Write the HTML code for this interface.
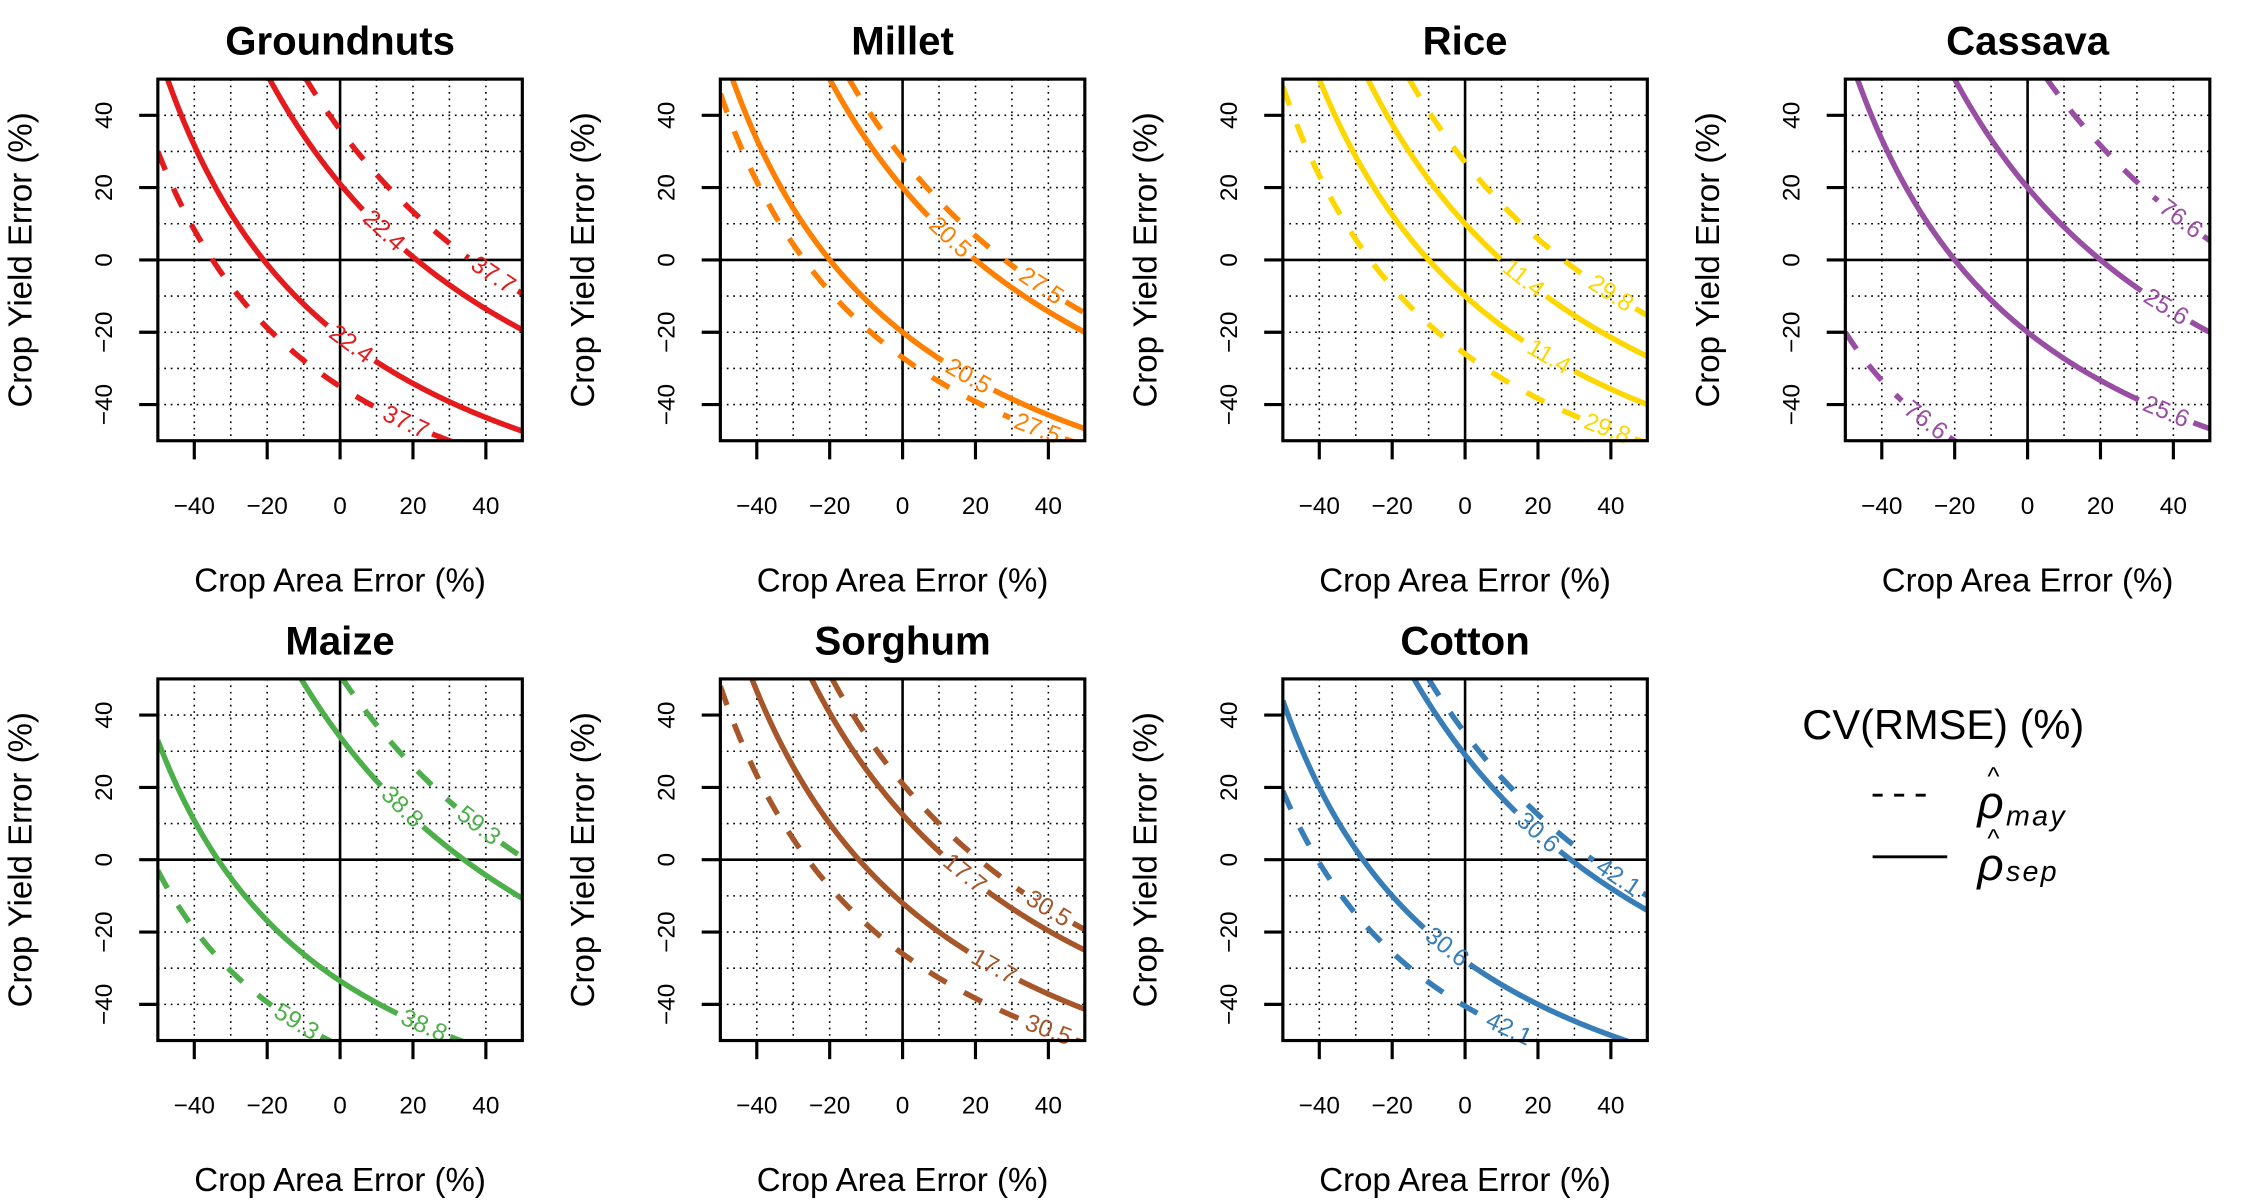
<!DOCTYPE html>
<html><head><meta charset="utf-8"><style>
html,body{margin:0;padding:0;background:#fff;}
svg{display:block;font-family:"Liberation Sans",Arial,sans-serif;}
</style></head><body>
<svg id="chart" width="2250" height="1200" viewBox="0 0 1568 836" xmlns="http://www.w3.org/2000/svg">
<rect x="0" y="0" width="1568" height="836" fill="#fff"/>
<g id="panels"></g>
<g>
  <text x="1256" y="515" font-size="29">CV(RMSE) (%)</text>
  <line x1="1305" y1="554" x2="1350" y2="554" stroke="#000" stroke-width="2" stroke-dasharray="7,8"/>
  <line x1="1305" y1="597" x2="1357" y2="597" stroke="#000" stroke-width="2"/>
  <g>
    <text x="1385" y="547" font-size="18">^</text>
    <text x="1378" y="570" font-size="32" font-style="italic">ρ</text>
    <text x="1398" y="575" font-size="20" font-style="italic" letter-spacing="1.5">may</text>
  </g>
  <g>
    <text x="1385" y="590" font-size="18">^</text>
    <text x="1378" y="613" font-size="32" font-style="italic">ρ</text>
    <text x="1398" y="614" font-size="20" font-style="italic" letter-spacing="1.5">sep</text>
  </g>
</g>
</svg>
<script>
const crops = ["Groundnuts","Millet","Rice","Cassava","Maize","Sorghum","Cotton"];
const colors = ["#e41a1c","#ff7f00","#ffd700","#984ea3","#4daf4a","#a65628","#377eb8"];
const solidUpper = [21, 20, 10, 20, 34, 12.5, 29];
const solidLower = [-21, -20, -10, -20, -33.5, -12, -28];
const dashUpper = [36, 28, 27, 58, 51, 21, 35];
const dashLower = [-35, -27, -26, -60, -51.5, -26, -40.5];
const solidCV = ["22.4","20.5","11.4","25.6","38.8","17.7","30.6"];
const dashCV = ["37.7","27.5","29.8","76.6","59.3","30.5","42.1"];
const solidUpperLabelX = [12, 13, 16, 38, 17, 17, 20];
const solidLowerLabelX = [3, 18, 23, 38, 23, 25, -5];
const dashUpperLabelX = [42, 38, 40, 42, 38, 40, 42];
const dashLowerLabelX = [18, 37, 39, -28, -12, 40, 12];
const ticks = [-40, -20, 0, 20, 40];

const NS = "http://www.w3.org/2000/svg";
const root = document.getElementById("panels");
function mk(tag, attrs, parent){
  const e = document.createElementNS(NS, tag);
  for (const k in attrs) e.setAttribute(k, attrs[k]);
  parent.appendChild(e);
  return e;
}
const W = 254, H = 252;
crops.forEach((crop, i) => {
  const col = i % 4, row = Math.floor(i / 4);
  const L = 110 + 392 * col, T = 55 + 418 * row;
  const sx = x => L + (x + 50) / 100 * W;
  const sy = y => T + (50 - y) / 100 * H;
  const g = mk("g", {}, root);
  
  
  const t = mk("text", {x: L + W/2, y: T - 17, "font-size": 28, "font-weight": "bold", "text-anchor": "middle"}, g);
  t.textContent = crop;
  
  
  const clipId = "clip" + i;
  const cp = mk("clipPath", {id: clipId}, g);
  mk("rect", {x: L, y: T, width: W, height: H}, cp);
  const grid = mk("g", {stroke: "#000", "stroke-width": 1.1, "stroke-dasharray": "1.2,3.3"}, g);
  
  
  for (let v = -40; v <= 40; v += 10) {
    if (v === 0) continue;
    mk("line", {x1: sx(v), y1: T, x2: sx(v), y2: T + H}, grid);
    mk("line", {x1: L, y1: sy(v), x2: L + W, y2: sy(v)}, grid);
  }
  const zx = mk("line", {x1: sx(0), y1: T, x2: sx(0), y2: T + H, stroke: "#000", "stroke-width": 1.8}, g);
  
  
  const zy = mk("line", {x1: L, y1: sy(0), x2: L + W, y2: sy(0), stroke: "#000", "stroke-width": 1.8}, g);
  
  
  const curves = [
    [solidUpper[i], solidCV[i], solidUpperLabelX[i], false],
    [solidLower[i], solidCV[i], solidLowerLabelX[i], false],
    [dashUpper[i], dashCV[i], dashUpperLabelX[i], true],
    [dashLower[i], dashCV[i], dashLowerLabelX[i], true]
  ];
  curves.forEach((cv, k) => {
    const c = 1 + cv[0] / 100, lx = cv[2];
    const f = x => 100 * (c / (1 + x / 100) - 1);
    const slope = x => -c / Math.pow(1 + x / 100, 2);
    const pxPerUnit = Math.sqrt(Math.pow(W/100, 2) + Math.pow(slope(lx) * H/100, 2));
    const hw = 20 / pxPerUnit;
    let d = "", pen = false;
    for (let x = -50; x <= 50.001; x += 0.25) {
      const y = f(x);
      if (Math.abs(x - lx) < hw || y > 60 || y < -60) { pen = false; continue; }
      d += (pen ? "L" : "M") + sx(x).toFixed(2) + "," + sy(y).toFixed(2);
      pen = true;
    }
    const p = mk("path", {d: d, fill: "none", stroke: colors[i], "stroke-width": 3.8, "clip-path": "url(#" + clipId + ")"}, g);
    if (cv[3]) p.setAttribute("stroke-dasharray", "14,14");
    
    
    const ang = Math.atan2(-slope(lx) * H/100, W/100) * 180 / Math.PI;
    const tx = sx(lx), ty = sy(f(lx));
    const lbl = mk("text", {x: tx, y: ty, "font-size": 17, fill: colors[i], "text-anchor": "middle", "dominant-baseline": "central", transform: "rotate(" + ang.toFixed(1) + " " + tx.toFixed(1) + " " + ty.toFixed(1) + ")", "clip-path": "url(#" + clipId + ")"}, g);
    lbl.textContent = cv[1];
    
    
  });
  const box = mk("rect", {x: L, y: T, width: W, height: H, fill: "none", stroke: "#000", "stroke-width": 2.2}, g);
  
  
  ticks.forEach(v => {
    mk("line", {x1: sx(v), y1: T + H, x2: sx(v), y2: T + H + 13, stroke: "#000", "stroke-width": 2.2}, g);
    const xl = mk("text", {x: sx(v), y: T + H + 51, "font-size": 17, "text-anchor": "middle"}, g);
    xl.textContent = v < 0 ? "\u2212" + (-v) : String(v);
    
    
    mk("line", {x1: L, y1: sy(v), x2: L - 13, y2: sy(v), stroke: "#000", "stroke-width": 2.2}, g);
    const yx = L - 32, yy = sy(v);
    const yl = mk("text", {x: yx, y: yy, "font-size": 17, "text-anchor": "middle", transform: "rotate(-90 " + yx + " " + yy + ")"}, g);
    yl.textContent = v < 0 ? "\u2212" + (-v) : String(v);
    
    
  });
  const xt = mk("text", {x: L + W/2, y: T + H + 105, "font-size": 23, "text-anchor": "middle"}, g);
  xt.textContent = "Crop Area Error (%)";
  
  
  const ytx = L - 88, yty = T + H/2;
  const yt = mk("text", {x: ytx, y: yty, "font-size": 23, "text-anchor": "middle", transform: "rotate(-90 " + ytx + " " + yty + ")"}, g);
  yt.textContent = "Crop Yield Error (%)";
  
  
});
</script>
</body></html>
